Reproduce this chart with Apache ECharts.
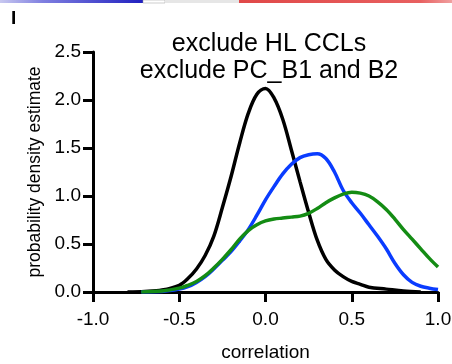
<!DOCTYPE html>
<html>
<head>
<meta charset="utf-8">
<script src="https://cdn.jsdelivr.net/npm/echarts@6/dist/echarts.min.js"></script>
<style>
html,body{margin:0;padding:0;background:#fff;}
#chart{width:452px;height:364px;}
</style>
</head>
<body>
<div id="chart"></div>
<script>
const titleLines = ["exclude HL CCLs", "exclude PC_B1 and B2"];
const xTicks = [-1.0, -0.5, 0.0, 0.5, 1.0];
const yTicks = [0.0, 0.5, 1.0, 1.5, 2.0, 2.5];

const blackX = [-0.80,-0.70,-0.60,-0.50,-0.45,-0.40,-0.35,-0.30,-0.25,-0.20,-0.15,-0.10,-0.05,0.00,0.05,0.10,0.15,0.20,0.25,0.30,0.35,0.40,0.45,0.50,0.55,0.60,0.70,0.80,0.90];
const blackY = [0.00,0.005,0.02,0.07,0.14,0.24,0.38,0.58,0.88,1.20,1.55,1.86,2.06,2.12,2.02,1.80,1.48,1.15,0.83,0.54,0.34,0.23,0.16,0.11,0.08,0.05,0.03,0.01,0.00];

const blueX = [-0.72,-0.60,-0.50,-0.45,-0.40,-0.35,-0.30,-0.25,-0.20,-0.15,-0.10,-0.05,0.00,0.05,0.10,0.15,0.20,0.25,0.30,0.35,0.40,0.45,0.50,0.55,0.60,0.65,0.70,0.75,0.80,0.85,0.90,0.95,1.00];
const blueY = [0.00,0.005,0.03,0.055,0.10,0.16,0.24,0.33,0.42,0.53,0.65,0.80,0.96,1.10,1.23,1.33,1.40,1.43,1.44,1.39,1.25,1.06,0.93,0.82,0.70,0.58,0.45,0.30,0.18,0.10,0.06,0.04,0.025];

const greenX = [-0.72,-0.60,-0.50,-0.45,-0.40,-0.35,-0.30,-0.25,-0.20,-0.15,-0.10,-0.05,0.00,0.05,0.10,0.15,0.20,0.25,0.30,0.35,0.40,0.45,0.50,0.55,0.60,0.65,0.70,0.75,0.80,0.85,0.90,0.95,1.00];
const greenY = [0.00,0.01,0.04,0.07,0.11,0.17,0.25,0.34,0.44,0.55,0.64,0.70,0.74,0.76,0.77,0.78,0.79,0.82,0.87,0.93,0.98,1.02,1.04,1.03,1.00,0.94,0.86,0.76,0.65,0.55,0.45,0.35,0.26];

const zip = (xs, ys) => xs.map((x, i) => [x, ys[i]]);
const FONT = "'Liberation Sans', Arial, Helvetica, sans-serif";

const chart = echarts.init(document.getElementById('chart'), null, {renderer: 'canvas'});

function lineSeries(name, xs, ys, color) {
  return {
    name, type: 'line', data: zip(xs, ys), smooth: 0.35, showSymbol: false,
    lineStyle: {color, width: 3.5}, z: 3, animation: false
  };
}

chart.setOption({
  animation: false,
  backgroundColor: '#fff',
  title: {
    text: titleLines.join('\n'),
    left: 264, top: 26, textAlign: 'center',
    textStyle: {fontFamily: FONT, fontSize: 25, fontWeight: 'normal', color: '#000', lineHeight: 27}
  },
  graphic: [
    {type: 'text', left: 11, top: 9, style: {text: 'I', font: "bold 19px " + FONT, fill: '#000'}},
    {type: 'rect', shape: {x: 0, y: 0, width: 143, height: 3}, style: {fill: new echarts.graphic.LinearGradient(0,0,1,0,[{offset:0,color:'#c8c8f0'},{offset:0.3,color:'#7f7fe0'},{offset:1,color:'#2020c0'}])}},
    {type: 'rect', shape: {x: 143, y: 0, width: 22, height: 3}, style: {fill: '#ffffff', stroke: '#999', lineWidth: 0.5}},
    {type: 'rect', shape: {x: 165, y: 0, width: 74, height: 3}, style: {fill: '#e6e6e6'}},
    {type: 'rect', shape: {x: 239, y: 0, width: 213, height: 3}, style: {fill: new echarts.graphic.LinearGradient(0,0,1,0,[{offset:0,color:'#e04848'},{offset:0.85,color:'#e86060'},{offset:1,color:'#f0a0a0'}])}}
  ],
  grid: {left: 93, right: 14, top: 52, bottom: 72, containLabel: false, outerBoundsMode: 'none'},
  xAxis: {
    type: 'value', min: -1, max: 1, interval: 0.5,
    name: 'correlation', nameLocation: 'middle', nameGap: 51,
    nameTextStyle: {fontFamily: FONT, fontSize: 19, color: '#000'},
    axisLine: {show: true, onZero: false, lineStyle: {color: '#000', width: 3}},
    axisTick: {show: true, length: 10, lineStyle: {color: '#000', width: 3}},
    axisLabel: {fontFamily: FONT, fontSize: 19, color: '#000', margin: 18,
      formatter: v => v.toFixed(1)},
    splitLine: {show: false}
  },
  yAxis: {
    type: 'value', min: 0, max: 2.5, interval: 0.5,
    name: 'probability density estimate', nameLocation: 'middle', nameGap: 47,
    nameTextStyle: {fontFamily: FONT, fontSize: 17.5, color: '#000'},
    axisLine: {show: true, onZero: false, lineStyle: {color: '#000', width: 3}},
    axisTick: {show: true, length: 10, lineStyle: {color: '#000', width: 3}},
    axisLabel: {fontFamily: FONT, fontSize: 19, color: '#000', margin: 12,
      formatter: v => v.toFixed(1)},
    splitLine: {show: false}
  },
  series: [
    lineSeries('black', blackX, blackY, '#000000'),
    lineSeries('blue', blueX, blueY, '#0a3cff'),
    lineSeries('green', greenX, greenY, '#148c14')
  ]
});
</script>
</body>
</html>
